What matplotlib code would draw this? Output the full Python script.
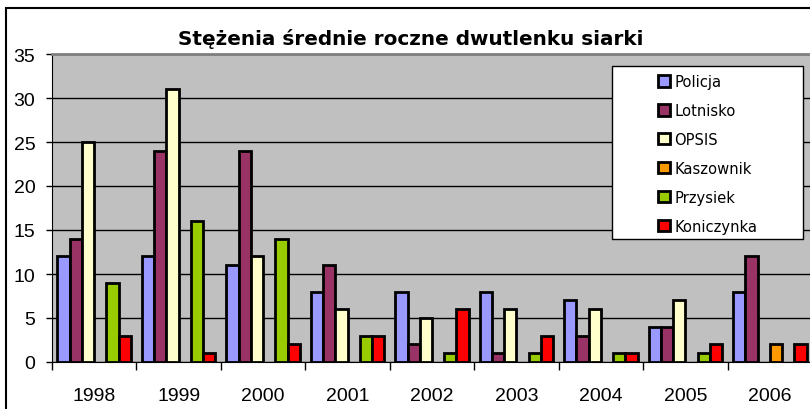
import numpy as np
import matplotlib
matplotlib.use("Agg")
import matplotlib.pyplot as plt
from matplotlib.patches import Patch, Rectangle

plt.rcParams["font.family"] = ["Liberation Sans", "DejaVu Sans"]

years = ["1998", "1999", "2000", "2001", "2002", "2003", "2004", "2005", "2006"]
series = ["Policja", "Lotnisko", "OPSIS", "Kaszownik", "Przysiek", "Koniczynka"]
nan = np.nan
policja = [12, 12, 11, 8, 8, 8, 7, 4, 8]
lotnisko = [14, 24, 24, 11, 2, 1, 3, 4, 12]
opsis = [25, 31, 12, 6, 5, 6, 6, 7, nan]
kaszownik = [nan, nan, nan, nan, nan, nan, nan, nan, 2]
przysiek = [9, 16, 14, 3, 1, 1, 1, 1, nan]
koniczynka = [3, 1, 2, 3, 6, 3, 1, 2, 2]
values = [policja, lotnisko, opsis, kaszownik, przysiek, koniczynka]
colors = ["#9999FF", "#993366", "#FFFFCC", "#FF9900", "#99CC00", "#FF0000"]
title = "Stężenia średnie roczne dwutlenku siarki"

W, H = 810, 410
fig = plt.figure(figsize=(W / 100, H / 100), dpi=100)
fig.patch.set_facecolor("white")

# chart border (extends beyond right/bottom)
fig.patches.append(Rectangle((6 / W, -0.1), 1.2, (H - 9) / H + 0.1,
                             transform=fig.transFigure, fill=False,
                             edgecolor="black", linewidth=1.5, zorder=0))

ax = fig.add_axes([52 / W, (H - 363) / H, 760 / W, 308 / H])
ax.set_facecolor("#C0C0C0")

x = np.arange(len(years))
w = 0.145
for j, (vals, c) in enumerate(zip(values, colors)):
    ax.bar(x + (j - 2.5) * w, vals, width=w, color=c, edgecolor="black",
           linewidth=2.0, zorder=3, label=series[j])

ax.set_xlim(-0.5, len(years) - 0.5)
ax.set_ylim(0, 35)
ax.set_yticks(np.arange(0, 36, 5))
ax.yaxis.grid(True, color="black", linewidth=1)
ax.set_axisbelow(True)

ax.set_xticks(np.arange(-0.5, len(years), 1.0))
ax.set_xticklabels([])
ax.set_xticks(x, minor=True)
ax.set_xticklabels(years, minor=True)
ax.tick_params(axis="x", which="major", direction="out", length=6, width=1)
ax.tick_params(axis="x", which="minor", length=0, pad=18, labelsize=14)
ax.tick_params(axis="y", direction="out", length=4, width=1, pad=8, labelsize=14)

ax.spines["left"].set_color("black")
ax.spines["bottom"].set_color("black")
ax.spines["top"].set_color("#808080")
ax.spines["top"].set_linewidth(2)
ax.spines["right"].set_visible(False)

fig.text(411 / W, (H - 39) / H, title, ha="center", va="center",
         fontsize=14.4, fontweight="bold", family="DejaVu Sans")

# legend frame
fig.patches.append(Rectangle((612 / W, (H - 240) / H), 191 / W, 173 / H,
                             transform=fig.transFigure, facecolor="white",
                             edgecolor="black", linewidth=1, zorder=5))
handles = [Patch(facecolor=c, edgecolor="black", linewidth=2.0) for c in colors]
leg = fig.legend(handles, series, loc="upper left",
                 bbox_to_anchor=(658 / W, (H - 75) / H),
                 frameon=False, borderpad=0, borderaxespad=0,
                 handlelength=0.8, handleheight=0.8, handletextpad=0.3,
                 labelspacing=0.95, prop={"family": "DejaVu Sans", "size": 10.6})
leg.set_zorder(6)

fig.savefig("out.png", dpi=100)
